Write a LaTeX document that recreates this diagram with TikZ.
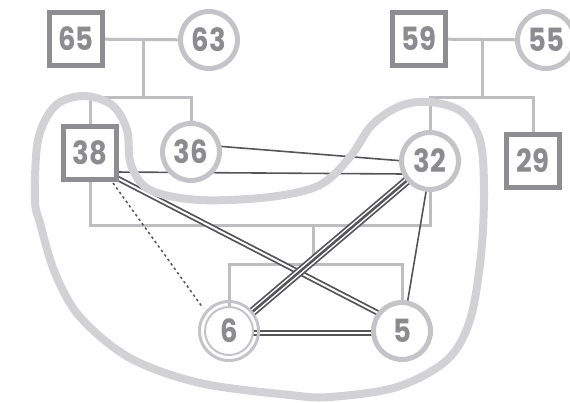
\documentclass[tikz,border=0pt]{standalone}
\usepackage{fontspec}
\setmainfont{Poppins}
\newfontfamily\numfont{Poppins}[FakeStretch=0.86]
\usetikzlibrary{calc}
\definecolor{sqcol}{RGB}{142,142,146}
\definecolor{cicol}{RGB}{196,196,200}
\definecolor{txcol}{RGB}{140,140,144}
\definecolor{gencol}{RGB}{190,190,194}
\definecolor{relcol}{RGB}{85,85,88}
\definecolor{blobcol}{RGB}{210,210,213}
\pgfdeclarelayer{bg}
\pgfsetlayers{bg,main}
\tikzset{
  numtext/.style={text=txcol, font=\numfont\fontsize{32}{32}\selectfont\bfseries},
  male/.style={draw=sqcol, line width=5pt, fill=white, rectangle, minimum size=53pt, inner sep=0pt, numtext},
  female/.style={draw=cicol, line width=5pt, fill=white, circle, minimum size=57pt, inner sep=0pt, numtext},
  femaledbl/.style={draw=cicol, line width=2pt, fill=white, circle, minimum size=48pt, inner sep=0pt, numtext},
  gen/.style={draw=gencol, line width=3pt},
  rel/.style={draw=relcol, line width=1.6pt},
  reldbl/.style={draw=relcol, line width=1.8pt, double=white, double distance=2pt},
  reldot/.style={draw=relcol, line width=1.5pt, dash pattern=on 2.5pt off 3pt},
  blobline/.style={draw=blobcol, line width=8pt}
}
\begin{document}
\begin{tikzpicture}[x=1pt,y=-1pt]
\useasboundingbox (0,0) rectangle (570,402);
% nodes
\node[male] (n65) at (76,39) {65};
\node[female] (n63) at (209,40) {63};
\node[male] (n59) at (419,39) {59};
\node[female] (n55) at (546,40) {55};
\node[male] (n38) at (90,153) {38};
\node[female] (n36) at (191,152) {36};
\node[female] (n32) at (430,161) {32};
\node[male] (n29) at (533,161) {29};
\node[femaledbl] (n6) at (229,331) {6};
\node[female] (n5) at (402,331) {5};
\draw[draw=cicol, line width=3pt] (n6.center) circle (29.5pt);
\begin{pgfonlayer}{bg}
\draw[gen] (n65) -- (n63);
\draw[gen] (n59) -- (n55);
\draw[gen] (143,40) -- (143,97);
\draw[gen] (n38.north) -- (90,97) -- (191,97) -- (n36.north);
\draw[gen] (482,40) -- (482,97);
\draw[gen] (n32.north) -- (430,97) -- (533,97) -- (n29.north);
\draw[gen] (n38.south) -- (90,225) -- (430,225) -- (n32.south);
\draw[gen] (313,225) -- (313,264);
\draw[gen] (n6.north) -- (229,264) -- (402,264) -- (n5.north);
% relationships
\draw[rel] ($(n36.center)+(25,-6)$) -- ($(n32.center)+(-26,0)$);
\draw[rel] ($(n38.center)+(25,19)$) -- ($(n32.center)+(-26,13)$);
\draw[rel] ($(n32.center)+(-3,25)$) -- ($(n5.center)+(5,-26)$);
\draw[reldbl] ($(n38.center)+(25,24)$) -- ($(n5.center)+(-22,-17)$);
\draw[reldot] ($(n38.center)+(23,30)$) -- ($(n6.center)+(-26,-23)$);
\draw[reldbl] ($(n6.center)+(0,2)$) -- ($(n5.center)+(0,2)$);
\draw[draw=relcol, line width=9pt] ($(n32.center)+(-20,17)$) -- ($(n6.center)+(22,-18)$);
\draw[draw=white, line width=5.5pt] ($(n32.center)+(-20,17)$) -- ($(n6.center)+(22,-18)$);
\draw[draw=relcol, line width=2.5pt] ($(n32.center)+(-20,17)$) -- ($(n6.center)+(22,-18)$);
\end{pgfonlayer}
% household boundary
\draw[blobline] plot[smooth cycle, tension=0.55] coordinates {
 (35,200) (38,140) (55,106) (83,96) (112,105) (127,130) (131,165) (150,190)
 (200,200) (270,197) (320,185) (350,157) (372,125) (400,106) (430,102)
 (462,112) (480,140) (484,190) (481,255) (470,320) (447,360) (397,387)
 (330,397) (290,395) (200,383) (130,358) (80,317) (55,273) (40,223)};
\end{tikzpicture}
\end{document}
